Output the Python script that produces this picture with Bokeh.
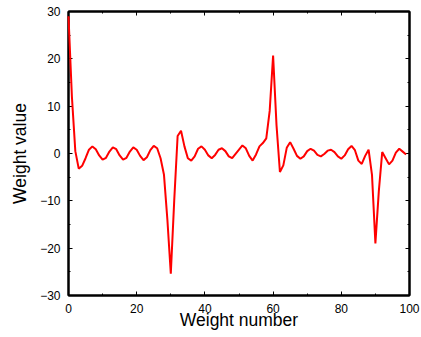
from bokeh.plotting import figure
from bokeh.models import Range1d, SingleIntervalTicker, LinearAxis, CustomJSTickFormatter
from bokeh.embed import file_html
from bokeh.resources import INLINE

weight_number = list(range(100))
weight_value = [
    29.0, 12.0, 0.5, -3.2, -2.6, -1.0, 0.8, 1.5, 0.9, -0.4,
    -1.3, -0.9, 0.4, 1.3, 0.9, -0.4, -1.3, -0.9, 0.4, 1.3,
    0.8, -0.5, -1.4, -0.8, 0.7, 1.6, 1.1, -1.0, -4.5, -14.0,
    -25.4, -10.0, 3.7, 4.8, 1.5, -1.0, -1.5, -0.6, 1.0, 1.5,
    0.8, -0.4, -1.0, -0.3, 0.8, 1.1, 0.5, -0.6, -1.0, -0.1,
    0.8, 1.7, 1.1, -0.5, -1.5, -0.2, 1.5, 2.2, 3.2, 9.0,
    20.7, 6.0, -3.9, -2.5, 1.2, 2.4, 1.0, -0.5, -1.1, -0.6,
    0.5, 1.0, 0.6, -0.3, -0.6, -0.1, 0.6, 0.8, 0.3, -0.6,
    -1.1, -0.4, 0.9, 1.6, 0.7, -1.5, -2.2, -0.5, 0.8, -4.5,
    -19.0, -8.0, 0.3, -1.0, -2.3, -1.5, 0.2, 1.0, 0.4, -0.2,
]

FONT = "Liberation Sans"

p = figure(width=421, height=337, output_backend="svg", toolbar_location=None,
           x_range=Range1d(0, 100), y_range=Range1d(-30, 30),
           min_border_left=68, min_border_right=12, min_border_top=11, min_border_bottom=42,
           x_axis_location=None, y_axis_location=None)
p.grid.visible = False
p.outline_line_color = "black"
p.outline_line_width = 2
p.background_fill_color = "white"
p.border_fill_color = "white"

r = p.line(weight_number, weight_value, line_color="#ff0000", line_width=2)
r.level = "overlay"

def style(ax, interval, labels=True):
    ax.ticker = SingleIntervalTicker(interval=interval, num_minor_ticks=2)
    ax.axis_line_color = "black"
    ax.axis_line_width = 2
    ax.major_tick_in = 4
    ax.major_tick_out = 0
    ax.minor_tick_in = 2
    ax.minor_tick_out = 0
    ax.major_tick_line_color = "black"
    ax.minor_tick_line_color = "black"
    ax.major_tick_line_width = 1
    ax.minor_tick_line_width = 1
    ax.major_label_text_font = FONT
    ax.major_label_text_color = "black"
    ax.axis_label_text_font = FONT
    ax.axis_label_text_font_style = "normal"
    ax.axis_label_text_color = "black"
    ax.axis_label_text_font_size = "17.5px"
    ax.major_label_text_font_size = "12px"
    if not labels:
        ax.formatter = CustomJSTickFormatter(code="return '';")
        ax.major_label_standoff = 0

xb = LinearAxis(axis_label="Weight number")
style(xb, 20)
xb.major_label_standoff = 8
xb.axis_label_standoff = -6
p.add_layout(xb, "below")

yl = LinearAxis(axis_label="Weight value")
style(yl, 10)
yl.major_label_standoff = 8
yl.axis_label_standoff = 7
p.add_layout(yl, "left")

xt = LinearAxis()
style(xt, 20, labels=False)
p.add_layout(xt, "above")

yr = LinearAxis()
style(yr, 10, labels=False)
p.add_layout(yr, "right")

open("out.html", "w").write(file_html(p, INLINE))
